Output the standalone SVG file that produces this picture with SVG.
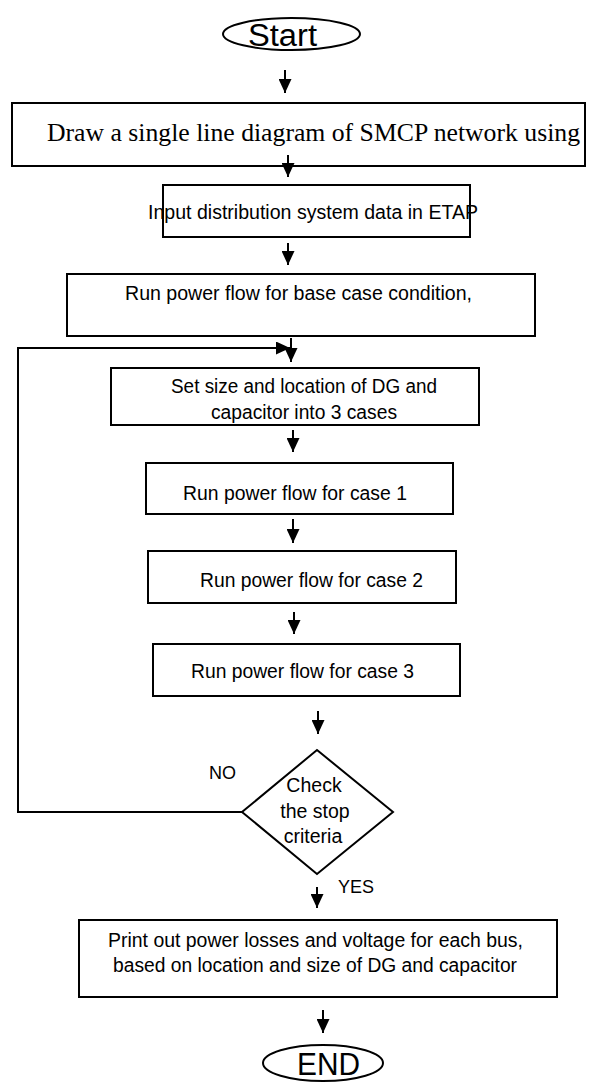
<svg xmlns="http://www.w3.org/2000/svg" width="590" height="1086" viewBox="0 0 590 1086">
<defs>
<style>
.box{fill:#fff;stroke:#000;stroke-width:2}
.ln{fill:none;stroke:#000;stroke-width:2}
.t{font-family:"Liberation Sans",Arial,sans-serif;font-size:19.5px;fill:#000;text-anchor:middle}
.tm{font-family:"Liberation Serif","Times New Roman",serif;font-size:25.5px;fill:#000;text-anchor:middle}
.big{font-family:"Liberation Sans",Arial,sans-serif;font-size:31px;fill:#000;text-anchor:middle}
.lbl{font-family:"Liberation Sans",Arial,sans-serif;font-size:18px;fill:#000}
</style>
<marker id="ah" markerUnits="userSpaceOnUse" markerWidth="14" markerHeight="13" refX="14" refY="6.5" orient="auto">
<path d="M0,0 L14,6.5 L0,13 z" fill="#000"/>
</marker>
</defs>
<rect width="590" height="1086" fill="#fff"/>
<g id="start">
<ellipse class="box" cx="291.5" cy="34" rx="68.5" ry="16"/>
<text class="big" x="282.5" y="46" textLength="69" lengthAdjust="spacingAndGlyphs">Start</text>
</g>
<g id="draw">
<rect class="box" x="12" y="103" width="573" height="63"/>
<text class="tm" x="313.5" y="141" textLength="533" lengthAdjust="spacingAndGlyphs">Draw a single line diagram of SMCP network using</text>
</g>
<g id="input">
<rect class="box" x="163" y="185" width="307" height="52"/>
<text class="t" x="313" y="219" textLength="330" lengthAdjust="spacingAndGlyphs">Input distribution system data in ETAP</text>
</g>
<g id="base">
<rect class="box" x="67" y="274" width="468" height="62"/>
<text class="t" x="298.5" y="300" textLength="347" lengthAdjust="spacingAndGlyphs">Run power flow for base case condition,</text>
</g>
<g id="setsize">
<rect class="box" x="111" y="368" width="368" height="57"/>
<text class="t" x="304" y="393" textLength="266" lengthAdjust="spacingAndGlyphs">Set size and location of DG and</text>
<text class="t" x="304" y="419" textLength="186" lengthAdjust="spacingAndGlyphs">capacitor into 3 cases</text>
</g>
<g id="case1">
<rect class="box" x="146" y="463" width="307" height="51"/>
<text class="t" x="295" y="500" textLength="224" lengthAdjust="spacingAndGlyphs">Run power flow for case 1</text>
</g>
<g id="case2">
<rect class="box" x="148" y="551" width="308" height="52"/>
<text class="t" x="311.5" y="587" textLength="223" lengthAdjust="spacingAndGlyphs">Run power flow for case 2</text>
</g>
<g id="case3">
<rect class="box" x="153" y="644" width="307" height="52"/>
<text class="t" x="302.5" y="678" textLength="223" lengthAdjust="spacingAndGlyphs">Run power flow for case 3</text>
</g>
<g id="check">
<polygon class="box" points="317,750 393,812 317,874 242,812"/>
<text class="t" x="314" y="792">Check</text>
<text class="t" x="315" y="818">the stop</text>
<text class="t" x="313" y="843">criteria</text>
</g>
<g id="print">
<rect class="box" x="79" y="920" width="478" height="77"/>
<text class="t" x="315.5" y="947" textLength="415" lengthAdjust="spacingAndGlyphs">Print out power losses and voltage for each bus,</text>
<text class="t" x="315" y="972" textLength="404" lengthAdjust="spacingAndGlyphs">based on location and size of DG and capacitor</text>
</g>
<g id="end">
<ellipse class="box" cx="323" cy="1063" rx="60" ry="18"/>
<text class="big" x="328.5" y="1075" textLength="63" lengthAdjust="spacingAndGlyphs">END</text>
</g>
<g id="connectors">
<line class="ln" x1="285" y1="70" x2="285" y2="93" marker-end="url(#ah)"/>
<line class="ln" x1="288" y1="155" x2="288" y2="177" marker-end="url(#ah)"/>
<line class="ln" x1="288" y1="243" x2="288" y2="265" marker-end="url(#ah)"/>
<polyline class="ln" points="242,812 18,812 18,348 290,348" marker-end="url(#ah)"/>
<line class="ln" x1="291" y1="338" x2="291" y2="362" marker-end="url(#ah)"/>
<line class="ln" x1="293" y1="430" x2="293" y2="452" marker-end="url(#ah)"/>
<line class="ln" x1="293" y1="519" x2="293" y2="543" marker-end="url(#ah)"/>
<line class="ln" x1="294" y1="612" x2="294" y2="634" marker-end="url(#ah)"/>
<line class="ln" x1="318" y1="711" x2="318" y2="734" marker-end="url(#ah)"/>
<line class="ln" x1="317" y1="887" x2="317" y2="908" marker-end="url(#ah)"/>
<line class="ln" x1="323" y1="1010" x2="323" y2="1033" marker-end="url(#ah)"/>
<text class="lbl" x="209" y="779">NO</text>
<text class="lbl" x="338" y="893">YES</text>
</g>
</svg>
